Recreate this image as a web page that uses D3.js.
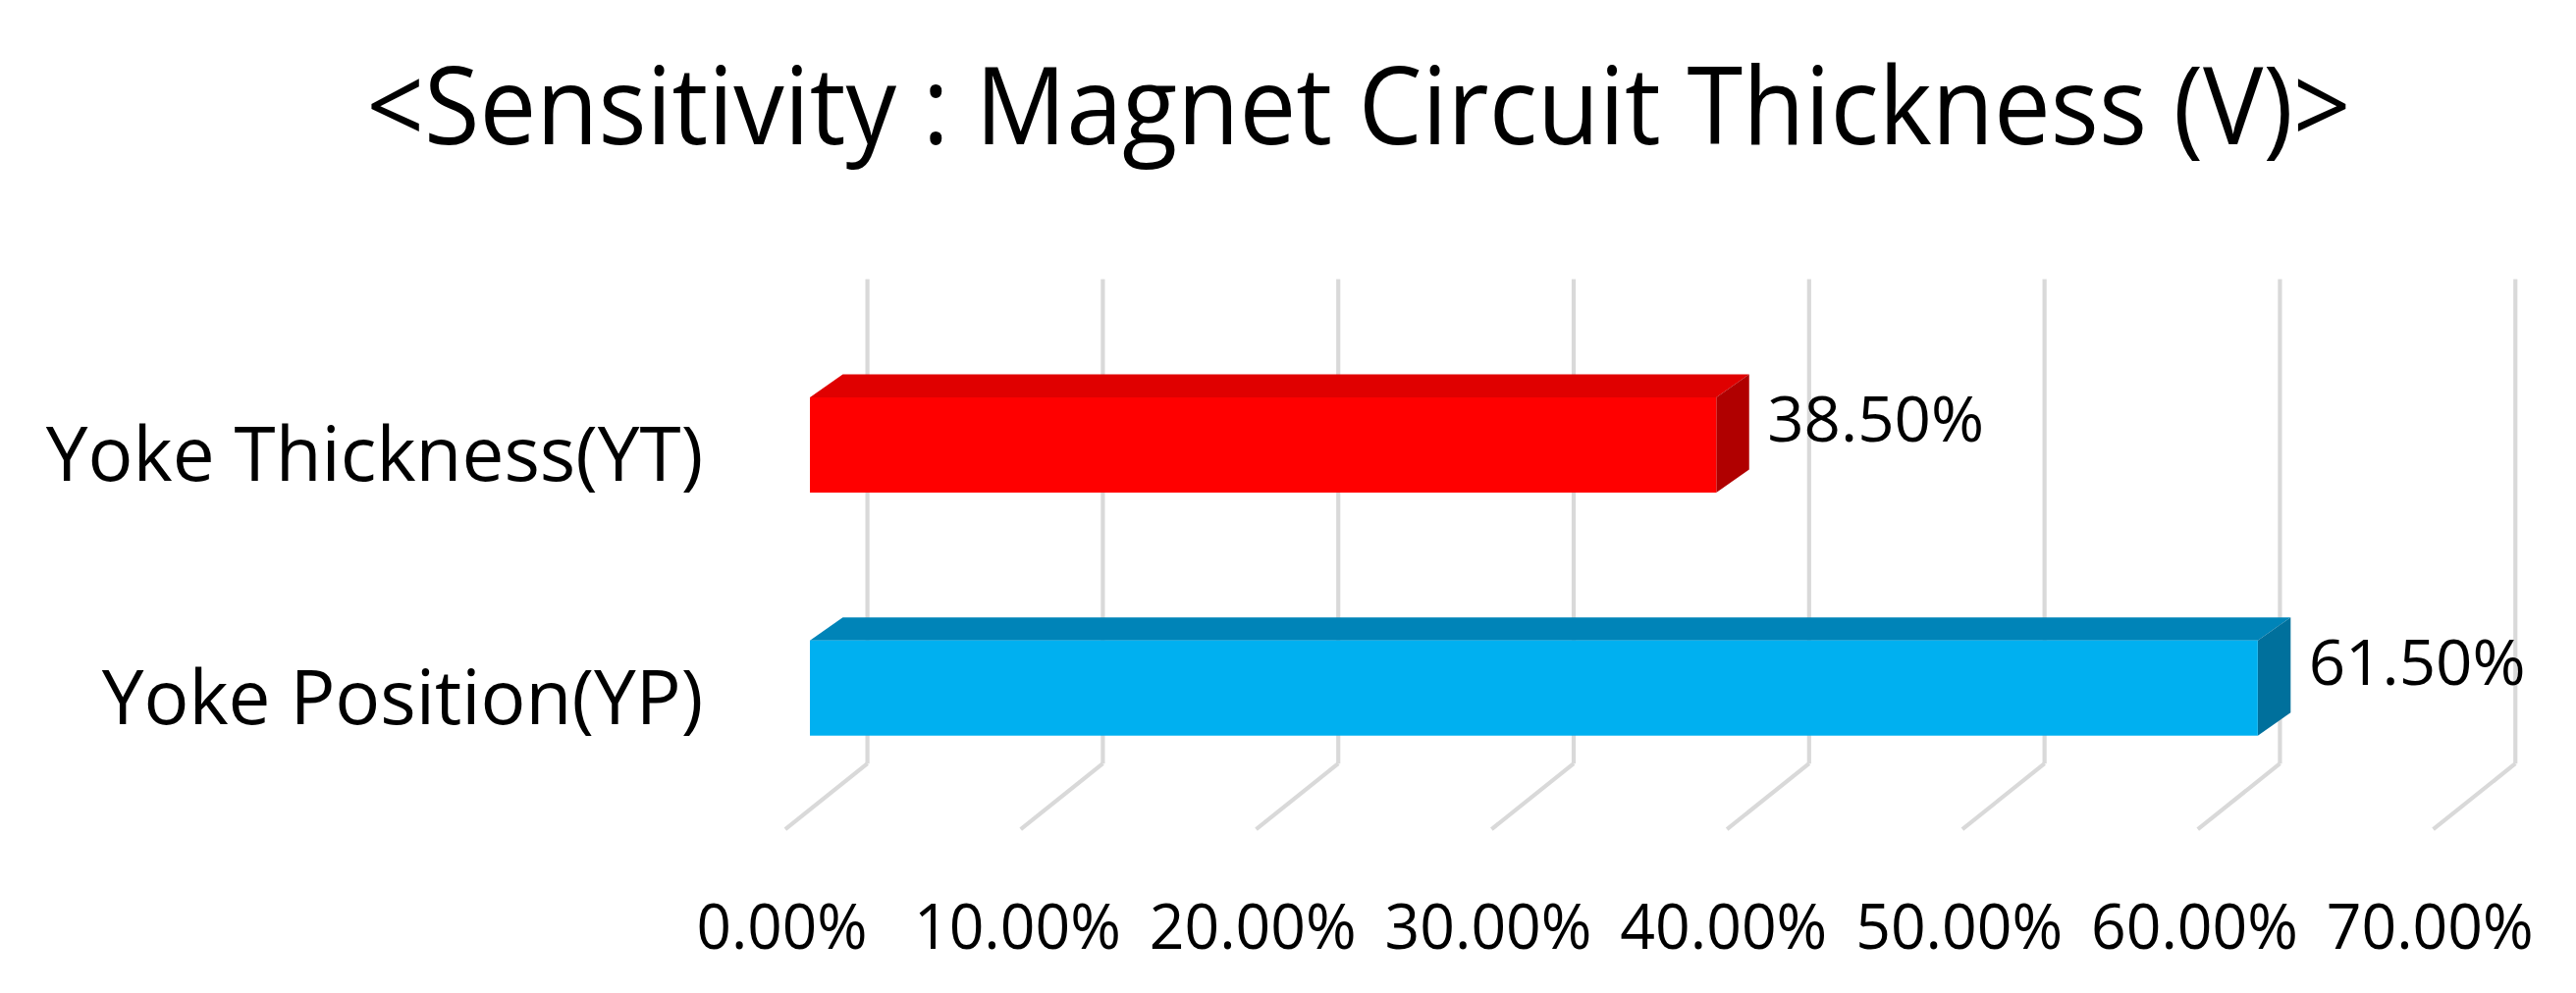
<!DOCTYPE html>
<html>
<head>
<meta charset="utf-8">
<script src="https://cdn.jsdelivr.net/npm/d3@7"></script>
<style>
body { margin:0; background:#fff; }
text { font-family: "Open Sans", "Noto Sans", sans-serif; fill:#000; }
</style>
</head>
<body>
<div class="chart"></div>
<script>
// data
const categories = ["Yoke Thickness(YT)", "Yoke Position(YP)"];
const values = [38.5, 61.5];
const barColors = ["#ff0000", "#00b0f0"];
const topColors = ["#e00000", "#0084b8"];
const sideColors = ["#b00000", "#00709c"];
const ticks = [0, 10, 20, 30, 40, 50, 60, 70];

// layout is in a 1568x604 frame, then scaled to the window
const k = 2624 / 1568;
const svg = d3.select(".chart").append("svg")
	.attr("width", 2624)
	.attr("height", 1012);
const g = svg.append("g").attr("transform", `scale(${k})`);

// back plane and depth offsets
const dx = 35;
const backTop = 170, backBottom = 465;
let xScale = d3.scaleLinear().domain([0, 70]).range([493, 493 + 143.3 * 7]);
let yScale = d3.scaleBand().domain(categories).range([228, 448]).paddingInner(76 / 148).paddingOuter(0);

g.append("text")
	.attr("x", 827).attr("y", 88)
	.attr("text-anchor", "middle")
	.attr("font-size", 66)
	.attr("textLength", 1208)
	.attr("lengthAdjust", "spacingAndGlyphs")
	.text("<Sensitivity : Magnet Circuit Thickness (V)>");

// gridlines: back wall + floor
ticks.forEach(t => {
	const x = xScale(t);
	g.append("line")
		.attr("x1", x + dx).attr("x2", x + dx)
		.attr("y1", backTop).attr("y2", backBottom)
		.attr("stroke", "#d9d9d9").attr("stroke-width", 2.5);
	g.append("line")
		.attr("x1", x + dx).attr("y1", backBottom)
		.attr("x2", x - 15).attr("y2", backBottom + 40)
		.attr("stroke", "#d9d9d9").attr("stroke-width", 2.5);
	g.append("text")
		.attr("x", x - 17).attr("y", 578)
		.attr("text-anchor", "middle")
		.attr("font-size", 38)
		.attr("textLength", t === 0 ? 104 : 126)
		.attr("lengthAdjust", "spacingAndGlyphs")
		.text(t.toFixed(2) + "%");
});

// bars (front, top, side)
const bx = 20, by = 14;
categories.forEach((c, i) => {
	const x0 = xScale(0), x1 = xScale(values[i]);
	const y0 = yScale(c) + by, h = yScale.bandwidth() - by;
	g.append("path")
		.attr("d", `M${x0},${y0} L${x0 + bx},${y0 - by} L${x1 + bx},${y0 - by} L${x1},${y0} Z`)
		.attr("fill", topColors[i]);
	g.append("path")
		.attr("d", `M${x1},${y0} L${x1 + bx},${y0 - by} L${x1 + bx},${y0 + h - by} L${x1},${y0 + h} Z`)
		.attr("fill", sideColors[i]);
	g.append("rect")
		.attr("x", x0).attr("y", y0)
		.attr("width", x1 - x0).attr("height", h)
		.attr("fill", barColors[i]);
	g.append("text")
		.attr("x", x1 + bx + 11).attr("y", y0 + h / 2 - 2)
		.attr("font-size", 38)
		.attr("textLength", 132)
		.attr("lengthAdjust", "spacingAndGlyphs")
		.text(values[i].toFixed(2) + "%");
	g.append("text")
		.attr("x", 428).attr("y", y0 + h / 2 + 22)
		.attr("text-anchor", "end")
		.attr("font-size", 46)
		.attr("textLength", i === 0 ? 400 : 366)
		.attr("lengthAdjust", "spacingAndGlyphs")
		.text(c);
});
</script>
</body>
</html>
